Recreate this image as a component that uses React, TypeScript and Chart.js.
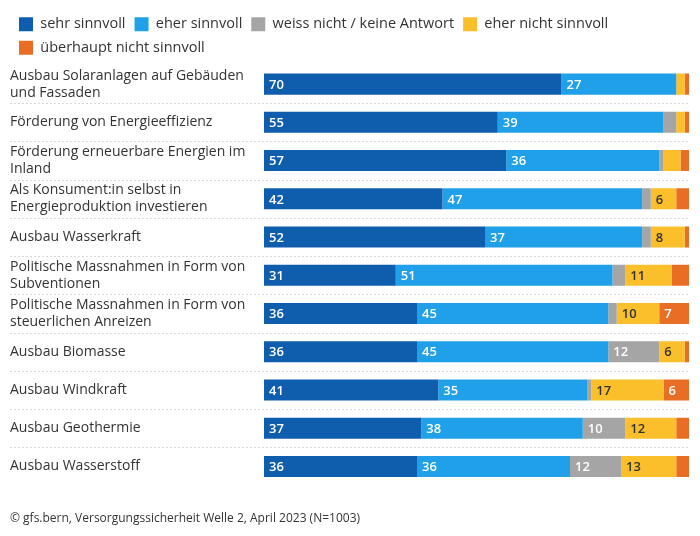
import React, { useEffect, useRef } from "react";
import { Chart, registerables } from "chart.js";
Chart.register(...registerables);

const categories: string[][] = [
  ["Ausbau Solaranlagen auf Gebäuden", "und Fassaden"],
  ["Förderung von Energieeffizienz"],
  ["Förderung erneuerbare Energien im", "Inland"],
  ["Als Konsument:in selbst in", "Energieproduktion investieren"],
  ["Ausbau Wasserkraft"],
  ["Politische Massnahmen in Form von", "Subventionen"],
  ["Politische Massnahmen in Form von", "steuerlichen Anreizen"],
  ["Ausbau Biomasse"],
  ["Ausbau Windkraft"],
  ["Ausbau Geothermie"],
  ["Ausbau Wasserstoff"],
];
const sehrSinnvoll = [70, 55, 57, 42, 52, 31, 36, 36, 41, 37, 36];
const eherSinnvoll = [27, 39, 36, 47, 37, 51, 45, 45, 35, 38, 36];
const weissNicht = [0, 3, 1, 2, 2, 3, 2, 12, 1, 10, 12];
const eherNicht = [2, 2, 4, 6, 8, 11, 10, 6, 17, 12, 13];
const ueberhauptNicht = [1, 1, 2, 3, 1, 4, 7, 1, 6, 3, 3];
const seriesNames = ["sehr sinnvoll", "eher sinnvoll", "weiss nicht / keine Antwort", "eher nicht sinnvoll", "überhaupt nicht sinnvoll"];
const colors = ["#0f5ead", "#1fa0e8", "#a5a5a5", "#fbbf2b", "#e86e25"];
const labelColors = ["#fff", "#fff", "#fff", "#333", "#fff"];
const footer = "© gfs.bern, Versorgungssicherheit Welle 2, April 2023 (N=1003)";
const FONT = "'Open Sans', 'Noto Sans', sans-serif";

export default function App() {
  const ref = useRef<HTMLCanvasElement>(null);
  useEffect(() => {
    document.body.style.margin = "0";
    const sepPlugin = {
      id: "sep",
      beforeDatasetsDraw(chart: any) {
        const { ctx, scales, chartArea } = chart;
        const y = scales.y;
        ctx.save();
        ctx.strokeStyle = "#d8d8d8";
        ctx.setLineDash([2, 2]);
        ctx.lineWidth = 1;
        for (let i = 0; i < categories.length - 1; i++) {
          const yy = Math.round((y.getPixelForValue(i) + y.getPixelForValue(i + 1)) / 2) + 0.5;
          ctx.beginPath();
          ctx.moveTo(10, yy);
          ctx.lineTo(chartArea.right, yy);
          ctx.stroke();
        }
        ctx.restore();
      },
    };
    const labelPlugin = {
      id: "lbl",
      afterDatasetsDraw(chart: any) {
        const { ctx } = chart;
        ctx.save();
        ctx.font = `600 13px ${FONT}`;
        ctx.textBaseline = "middle";
        chart.data.datasets.forEach((ds: any, di: number) => {
          const meta = chart.getDatasetMeta(di);
          meta.data.forEach((bar: any, i: number) => {
            const v = ds.data[i];
            if (v < 6) return;
            ctx.fillStyle = labelColors[di];
            ctx.fillText(String(v), bar.base + 5, bar.y + 1);
          });
        });
        ctx.restore();
      },
    };
    const mk = (arr: number[], i: number) => ({
      label: seriesNames[i],
      data: arr,
      backgroundColor: colors[i],
      borderWidth: 0,
      barPercentage: 1,
      categoryPercentage: 0.55,
    });
    const chart = new Chart(ref.current!, {
      type: "bar",
      data: {
        labels: categories as any,
        datasets: [sehrSinnvoll, eherSinnvoll, weissNicht, eherNicht, ueberhauptNicht].map(mk),
      },
      options: {
        indexAxis: "y",
        animation: false,
        responsive: false,
        layout: { padding: { left: 10, right: 11, top: 8, bottom: 10 } },
        scales: {
          x: { stacked: true, min: 0, max: 100, display: false },
          y: {
            stacked: true,
            grid: { display: false },
            border: { display: false },
            afterFit: (s: any) => { s.width = 254; },
            ticks: {
              crossAlign: "far",
              color: "#333",
              font: { family: FONT, size: 14 },
              padding: 8,
            },
          },
        },
        plugins: {
          tooltip: { enabled: false },
          legend: {
            position: "top",
            align: "start",
            labels: {
              boxWidth: 14,
              boxHeight: 14,
              padding: 9,
              color: "#333",
              font: { family: FONT, size: 14.5 },
            },
          },
          title: {
            display: true,
            position: "bottom",
            align: "start",
            text: footer,
            color: "#333",
            font: { family: FONT, size: 12, weight: "normal" },
            padding: { top: 26, bottom: 0 },
          },
        },
      },
      plugins: [sepPlugin, labelPlugin],
    });
    return () => chart.destroy();
  }, []);
  return <canvas ref={ref} width={700} height={536} style={{ display: "block" }} />;
}
